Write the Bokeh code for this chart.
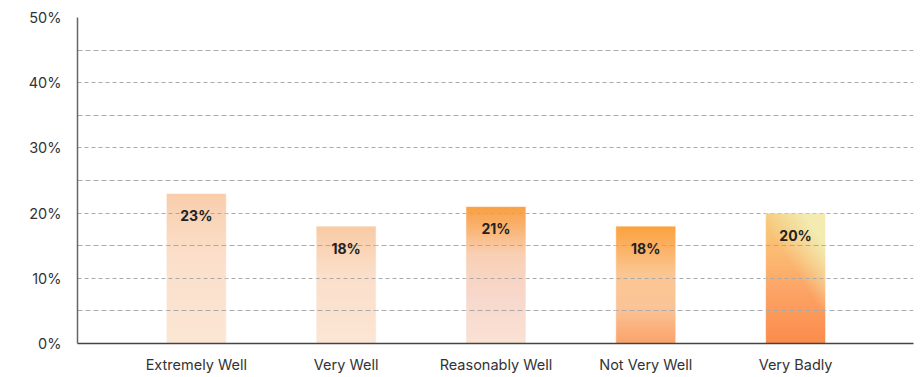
import numpy as np
from bokeh.plotting import figure
from bokeh.models import FixedTicker, PrintfTickFormatter, Range1d, ColumnDataSource
from bokeh.core.properties import value
from bokeh.embed import file_html
from bokeh.resources import INLINE

categories = ["Extremely Well", "Very Well", "Reasonably Well", "Not Very Well", "Very Badly"]
values = [23, 18, 21, 18, 20]
y_ticks = [0, 10, 20, 30, 40, 50]
y_minor_ticks = [5, 15, 25, 35, 45]

# gradient stops per bar: list of (position from bottom 0..1, hex colour)
gradients = [
    [(0.0, "#fbe7d5"), (0.6, "#fbdfca"), (1.0, "#f9ceac")],
    [(0.0, "#fce6d5"), (0.6, "#fbdfca"), (1.0, "#f9cba4")],
    [(0.0, "#fae2d4"), (0.35, "#f8d8cc"), (0.65, "#f9d0b4"), (0.85, "#f9b370"), (1.0, "#f9a043")],
    [(0.0, "#fba46c"), (0.3, "#fbc497"), (0.6, "#fbc793"), (0.85, "#fbaf5e"), (1.0, "#fba33f")],
    [(0.0, "#fb8c4c"), (0.4, "#fca466"), (0.65, "#fcb870"), (0.85, "#f8c478"), (1.0, "#f7c878")],
]

def hex_rgb(h):
    h = h.lstrip("#")
    return np.array([int(h[i:i + 2], 16) for i in (0, 2, 4)], dtype=float)

def make_img(stops, diag_yellow=False, n=120, m=30):
    v = np.linspace(0, 1, n)[:, None] * np.ones((1, m))
    u = np.ones((n, 1)) * np.linspace(0, 1, m)[None, :]
    pos = [s[0] for s in stops]
    cols = np.array([hex_rgb(s[1]) for s in stops])
    rgb = np.zeros((n, m, 3))
    for c in range(3):
        rgb[:, :, c] = np.interp(v, pos, cols[:, c])
    if diag_yellow:
        t = np.clip((u * 0.9 + v * 1.3 - 1.15) / 0.7, 0, 1)[:, :, None]
        rgb = rgb * (1 - t) + hex_rgb("#f3ebb0")[None, None, :] * t
    img = np.empty((n, m), dtype=np.uint32)
    view = img.view(dtype=np.uint8).reshape((n, m, 4))
    view[:, :, 0] = rgb[:, :, 0].astype(np.uint8)
    view[:, :, 1] = rgb[:, :, 1].astype(np.uint8)
    view[:, :, 2] = rgb[:, :, 2].astype(np.uint8)
    view[:, :, 3] = 255
    return img

xs = list(range(1, len(categories) + 1))
bar_w = 0.4

p = figure(frame_width=836, frame_height=326, output_backend="svg", toolbar_location=None,
           x_range=Range1d(0.207, 5.787), y_range=Range1d(0, 50),
           min_border_left=77, min_border_right=3, min_border_top=17, min_border_bottom=28)
p.outline_line_color = None
p.background_fill_color = "white"

imgs = [make_img(g, diag_yellow=(i == 4)) for i, g in enumerate(gradients)]
src = ColumnDataSource(dict(image=imgs, x=[x - bar_w / 2 for x in xs], y=[0] * len(xs),
                            dw=[bar_w] * len(xs), dh=values))
r = p.image_rgba(image="image", x="x", y="y", dw="dw", dh="dh", source=src)
r.level = "image"

p.quad(left=[x - bar_w / 2 for x in xs], right=[x + bar_w / 2 for x in xs], bottom=0, top=values,
       fill_alpha=0, line_color="white", line_alpha=0.5, line_width=1)

lbl = ColumnDataSource(dict(x=xs, y=values, t=[f"{v}%" for v in values]))
p.text(x="x", y="y", text="t", source=lbl, text_align="center", text_baseline="middle",
       y_offset=22, text_font=value("Inter"), text_font_style="bold", text_font_size="14px",
       text_color="#222222")

p.xaxis.ticker = FixedTicker(ticks=xs)
p.xaxis.major_label_overrides = {x: c for x, c in zip(xs, categories)}
p.yaxis.ticker = FixedTicker(ticks=y_ticks, minor_ticks=y_minor_ticks)
p.yaxis.formatter = PrintfTickFormatter(format="%d%%")

for ax in (p.xaxis, p.yaxis):
    ax.major_tick_line_color = None
    ax.minor_tick_line_color = None
    ax.major_label_text_font = "Inter"
    ax.major_label_text_font_size = "14.5px"
    ax.major_label_text_color = "#333333"
    ax.axis_line_width = 1.5
p.xaxis.axis_line_color = "#444444"
p.yaxis.axis_line_color = "#666666"
p.xaxis.major_label_standoff = 6
p.yaxis.major_label_standoff = 10

p.xgrid.grid_line_color = None
p.ygrid.grid_line_color = "#aaaaaa"
p.ygrid.grid_line_dash = "4 3"
p.ygrid.minor_grid_line_color = "#aaaaaa"
p.ygrid.minor_grid_line_dash = "5 3"

open("out.html", "w").write(file_html(p, INLINE))
